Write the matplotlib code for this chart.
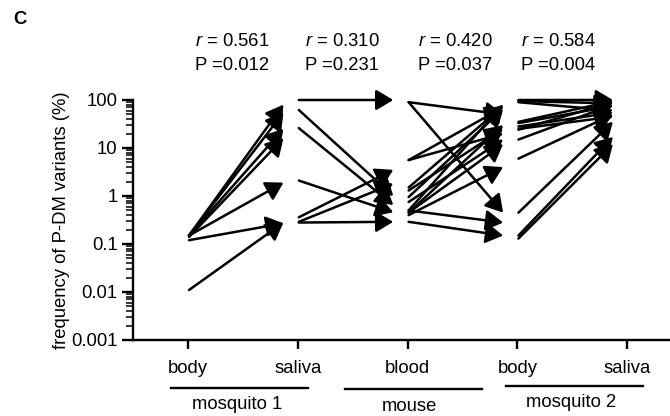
import matplotlib
matplotlib.use('Agg')
import matplotlib.pyplot as plt
from matplotlib.ticker import LogLocator, NullFormatter
import matplotlib.transforms as mtransforms

plt.rcParams['font.family'] = ['Liberation Sans', 'DejaVu Sans']
plt.rcParams['mathtext.fontset'] = 'custom'
plt.rcParams['mathtext.rm'] = 'Liberation Sans'
plt.rcParams['mathtext.it'] = 'Liberation Sans:italic'

# categories on the x axis
categories = ['body', 'saliva', 'blood', 'body', 'saliva']
groups = ['mosquito 1', 'mouse', 'mosquito 2']
group_spans = [(-0.15, 1.09), (1.43, 2.68), (2.90, 4.14)]
group_centers = [0.45, 2.02, 3.49]

# (start, end) frequency pairs for each transition
seg1_start = [0.15, 0.15, 0.15, 0.14, 0.15, 0.12, 0.011]
seg1_end = [80, 55, 25, 16, 1.9, 0.27, 0.28]

seg2_start = [100, 62, 26, 2.1, 0.36, 0.29, 0.28]
seg2_end = [100, 1.0, 0.65, 0.46, 3.5, 1.8, 0.29]

seg3_start = [90, 90, 5.6, 5.6, 1.5, 1.3, 0.95, 0.75, 0.5, 0.45, 0.4, 0.45, 0.5, 0.29]
seg3_end = [50, 0.45, 70, 20, 75, 25, 65, 15, 80, 30, 4, 12, 0.28, 0.15]

seg4_start = [100, 95, 90, 35, 33, 28, 25, 24, 15, 6, 0.45, 0.15, 0.13]
seg4_end = [100, 85, 60, 95, 75, 55, 45, 90, 80, 50, 35, 17, 12]

r_values = ['0.561', '0.310', '0.420', '0.584']
p_values = ['0.012', '0.231', '0.037', '0.004']

W, H = 670, 416
fig = plt.figure(figsize=(W / 100, H / 100), dpi=100)
ax = fig.add_axes([133 / W, 76 / H, 1 - 133 / W, 240 / H])

ax.set_yscale('log')
ax.set_ylim(0.001, 100)
ax.set_xlim(-0.5, 4.39)

segments = [(seg1_start, seg1_end), (seg2_start, seg2_end),
            (seg3_start, seg3_end), (seg4_start, seg4_end)]
for i, (starts, ends) in enumerate(segments):
    for s, e in zip(starts, ends):
        ax.annotate('', xy=(i + 0.87, e), xytext=(i + 0.01, s),
                    arrowprops=dict(arrowstyle='-|>,head_length=0.42,head_width=0.25',
                                    mutation_scale=25, lw=1.8, color='black',
                                    shrinkA=0, shrinkB=0))

for side in ['top', 'right']:
    ax.spines[side].set_visible(False)
for side in ['left', 'bottom']:
    ax.spines[side].set_linewidth(1.7)

ax.yaxis.set_minor_locator(LogLocator(base=10, subs=range(2, 10), numticks=20))
ax.yaxis.set_minor_formatter(NullFormatter())
ax.set_yticks([0.001, 0.01, 0.1, 1, 10, 100])
ax.set_yticklabels(['0.001', '0.01', '0.1', '1', '10', '100'], fontsize=13.3)
ax.tick_params(axis='y', which='major', length=8, width=1.7, pad=3)
ax.tick_params(axis='y', which='minor', length=5, width=1.1)

ax.set_xticks(range(len(categories)))
ax.set_xticklabels(categories, fontsize=13.3)
ax.tick_params(axis='x', which='major', length=6.5, width=1.7, pad=8)

ax.set_ylabel('frequency of P-DM variants (%)', fontsize=13.3, labelpad=1)

# group underlines and labels below the axis
trans = mtransforms.blended_transform_factory(ax.transData, ax.transAxes)
line_y = [-0.2, -0.205, -0.192]
label_y = [-0.27, -0.278, -0.262]
for (x0, x1), ly, name, cx, ty in zip(group_spans, line_y, groups, group_centers, label_y):
    ax.plot([x0, x1], [ly, ly], color='black', lw=1.7, transform=trans, clip_on=False)
    ax.text(cx, ty, name, transform=trans, ha='center', va='center', fontsize=13.3)

# statistics above the plot
col_x = [195, 305, 418, 521]
for x, r, p in zip(col_x, r_values, p_values):
    fig.text(x / W, 1 - 42 / H, f'$r$ = {r}', ha='left', va='center', fontsize=13.3)
    fig.text(x / W, 1 - 65 / H, f'P ={p}', ha='left', va='center', fontsize=13.3)

fig.text(13 / W, 1 - 20 / H, 'C', ha='left', va='center', fontsize=13.3, fontweight='bold')

fig.savefig('out.png', dpi=100)
